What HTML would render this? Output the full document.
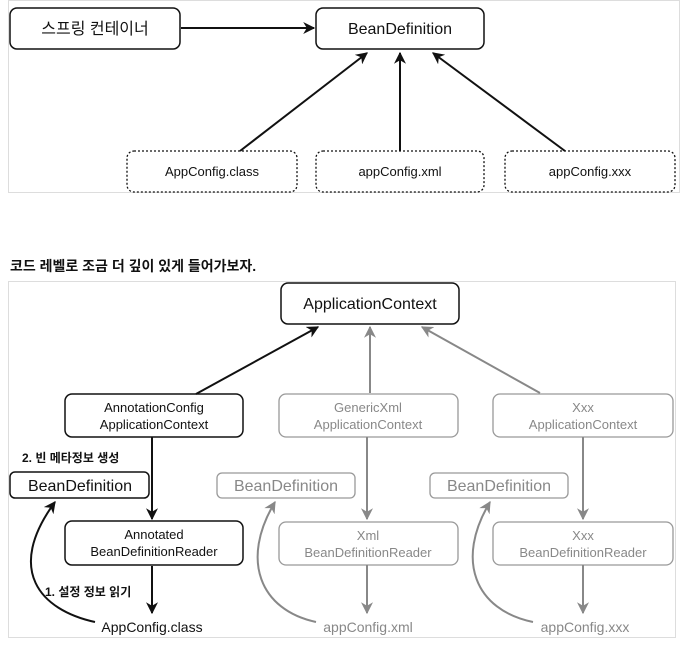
<!DOCTYPE html>
<html><head><meta charset="utf-8"><style>
body{margin:0;background:#fff;}
svg{display:block;font-family:"Liberation Sans","Noto Sans CJK KR",sans-serif;}
</style></head><body>
<svg width="682" height="648" viewBox="0 0 682 648" xmlns="http://www.w3.org/2000/svg">
<defs>
<marker id="ab" viewBox="0 0 10 10" refX="9" refY="5" markerWidth="6" markerHeight="6" orient="auto"><path d="M0,0 L10,5 L0,10 L3,5 z" fill="#111"/></marker>
<marker id="ag" viewBox="0 0 10 10" refX="9" refY="5" markerWidth="6" markerHeight="6" orient="auto"><path d="M0,0 L10,5 L0,10 L3,5 z" fill="#888"/></marker>
</defs>
<rect x="8.5" y="0.5" width="671" height="192" fill="none" stroke="#ddd"/>
<rect x="10" y="8" width="170" height="41" rx="7" fill="#fff" stroke="#111" stroke-width="1.5"/>
<text x="95" y="34" font-size="16" text-anchor="middle" fill="#111">스프링 컨테이너</text>
<rect x="316" y="8" width="168" height="41" rx="7" fill="#fff" stroke="#111" stroke-width="1.5"/>
<text x="400" y="34" font-size="16" text-anchor="middle" fill="#111">BeanDefinition</text>
<line x1="181" y1="28" x2="314" y2="28" stroke="#111" stroke-width="2" marker-end="url(#ab)"/>
<g fill="#fff" stroke="#111" stroke-width="1.3" stroke-dasharray="2,2">
<rect x="127" y="151" width="170" height="41" rx="7"/>
<rect x="316" y="151" width="168" height="41" rx="7"/>
<rect x="505" y="151" width="170" height="41" rx="7"/>
</g>
<g font-size="13" text-anchor="middle" fill="#111">
<text x="212" y="176">AppConfig.class</text>
<text x="400" y="176">appConfig.xml</text>
<text x="590" y="176">appConfig.xxx</text>
</g>
<g stroke="#111" stroke-width="2" marker-end="url(#ab)">
<line x1="240" y1="151" x2="367" y2="53"/>
<line x1="400" y1="151" x2="400" y2="53"/>
<line x1="565" y1="151" x2="433" y2="53"/>
</g>
<text x="10" y="271" font-size="14" font-weight="bold" fill="#111">코드 레벨로 조금 더 깊이 있게 들어가보자.</text>
<rect x="8.5" y="281.5" width="667" height="356" fill="none" stroke="#ddd"/>
<rect x="281" y="283" width="178" height="41" rx="7" fill="#fff" stroke="#111" stroke-width="1.5"/>
<text x="370" y="309" font-size="16" text-anchor="middle" fill="#111">ApplicationContext</text>
<rect x="65" y="394" width="178" height="43" rx="7" fill="#fff" stroke="#111" stroke-width="1.5"/>
<text x="154" y="412" font-size="13" text-anchor="middle" fill="#111">AnnotationConfig</text>
<text x="154" y="429" font-size="13" text-anchor="middle" fill="#111">ApplicationContext</text>
<g fill="#fff" stroke="#999" stroke-width="1.3">
<rect x="279" y="394" width="179" height="43" rx="7"/>
<rect x="493" y="394" width="180" height="43" rx="7"/>
<rect x="217" y="473" width="138" height="25" rx="5"/>
<rect x="430" y="473" width="138" height="25" rx="5"/>
<rect x="279" y="522" width="179" height="43" rx="7"/>
<rect x="493" y="522" width="180" height="43" rx="7"/>
</g>
<g font-size="13" text-anchor="middle" fill="#888">
<text x="368" y="412">GenericXml</text><text x="368" y="429">ApplicationContext</text>
<text x="583" y="412">Xxx</text><text x="583" y="429">ApplicationContext</text>
<text x="368" y="540">Xml</text><text x="368" y="557">BeanDefinitionReader</text>
<text x="583" y="540">Xxx</text><text x="583" y="557">BeanDefinitionReader</text>
</g>
<g font-size="16" text-anchor="middle" fill="#888">
<text x="286" y="491">BeanDefinition</text>
<text x="499" y="491">BeanDefinition</text>
</g>
<g font-size="14" text-anchor="middle" fill="#888">
<text x="368" y="632">appConfig.xml</text>
<text x="585" y="632">appConfig.xxx</text>
</g>
<rect x="10" y="472" width="139" height="26" rx="5" fill="#fff" stroke="#111" stroke-width="1.5"/>
<text x="80" y="491" font-size="16" text-anchor="middle" fill="#111">BeanDefinition</text>
<rect x="65" y="521" width="178" height="44" rx="7" fill="#fff" stroke="#111" stroke-width="1.5"/>
<text x="154" y="539" font-size="13" text-anchor="middle" fill="#111">Annotated</text>
<text x="154" y="556" font-size="13" text-anchor="middle" fill="#111">BeanDefinitionReader</text>
<text x="152" y="632" font-size="14" text-anchor="middle" fill="#111">AppConfig.class</text>
<text x="22" y="462" font-size="12" font-weight="bold" fill="#111">2. 빈 메타정보 생성</text>
<text x="45" y="596" font-size="12" font-weight="bold" fill="#111">1. 설정 정보 읽기</text>
<g stroke="#111" stroke-width="2" fill="none" marker-end="url(#ab)">
<line x1="196" y1="394" x2="318" y2="327"/>
<line x1="152" y1="437" x2="152" y2="519"/>
<line x1="152" y1="566" x2="152" y2="613"/>
<path d="M95,622 C40,610 5,570 55,502"/>
</g>
<g stroke="#888" stroke-width="2" fill="none" marker-end="url(#ag)">
<line x1="370" y1="393" x2="370" y2="327"/>
<line x1="540" y1="393" x2="422" y2="327"/>
<line x1="367" y1="437" x2="367" y2="519"/>
<line x1="583" y1="437" x2="583" y2="519"/>
<line x1="367" y1="565" x2="367" y2="613"/>
<line x1="583" y1="565" x2="583" y2="613"/>
<path d="M316,622 C260,610 240,560 275,502"/>
<path d="M533,622 C475,610 455,560 490,502"/>
</g>
</svg>
</body></html>
